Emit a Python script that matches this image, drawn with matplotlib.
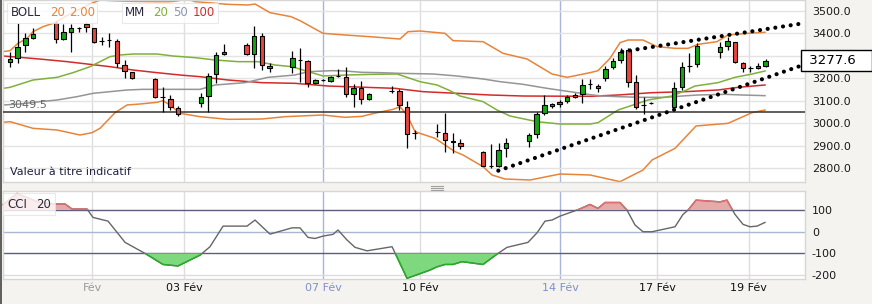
import numpy as np
import matplotlib.pyplot as plt
from matplotlib.lines import Line2D
from matplotlib.patches import Rectangle
from matplotlib.transforms import blended_transform_factory

plt.rcParams['font.family'] = ['DejaVu Sans']
plt.rcParams['axes.unicode_minus'] = False

# bougies : index de la période, ouverture, plus haut, plus bas, clôture
idx = [0, 1, 2, 3, 6, 7, 8, 9, 10, 11, 12, 13, 14, 15, 16, 19, 20, 21, 22,
       25, 26, 27, 28, 31, 32, 33, 34, 37, 38, 39, 40, 41, 42, 43, 44, 45, 46, 47,
       50, 51, 52, 53, 56, 57, 58, 59, 62, 63, 64, 65, 68, 69, 70, 71, 72, 73, 74,
       75, 76, 77, 78, 79, 80, 81, 82, 83, 84, 87, 88, 89, 90, 93, 94, 95, 96, 97, 98, 99]
opn = [3270.6, 3288.4, 3347.6, 3377.2, 3443.8, 3372.8, 3406.8, 3421.6, 3440.9, 3421.6,
       3367, 3370, 3365.4, 3258.7, 3226.2, 3196.6, 3118.5, 3107.7, 3066.2,
       3091.4, 3122.5, 3218.8, 3306, 3347.6, 3306.1, 3387.6, 3254.3, 3248.4, 3281.5,
       3276.5, 3177.3, 3192.5, 3189.1, 3210.5, 3206.9, 3128.4, 3155.1, 3106.2,
       3145, 3143.2, 3073.6, 2957, 2963, 2955.2, 2919, 2913.7, 2873.7, 2812, 2811.5, 2888.5,
       2921.1, 2950.7, 3044, 3084, 3084, 3098.8, 3125.5, 3129.9, 3173, 3165.4, 3199.5,
       3248.4, 3281, 3325.4, 3184.7, 3079, 3091, 3073.6, 3159.5, 3256, 3261.7,
       3318, 3343.1, 3359.4, 3266.2, 3244, 3243.9, 3255.8]
high = [3318, 3446.8, 3399.4, 3421.6, 3455.7, 3440.9, 3440.9, 3429, 3451.3, 3423,
        3384.6, 3399.4, 3372.8, 3281, 3229.1, 3199.5, 3159.5, 3125.5, 3076.6,
        3132.9, 3221.7, 3318, 3350.5, 3355, 3432, 3399.4, 3266.2, 3322.4, 3332.8,
        3281, 3196.6, 3198, 3209.9, 3239.5, 3251.3, 3174.3, 3187.7, 3135.8,
        3165, 3150.6, 3098.8, 2970, 2996.6, 3047, 2958, 2928.5, 2876.7, 2906.3, 2910.7, 2933,
        2958.1, 3048.4, 3125.5, 3088.5, 3103.3, 3125.5, 3132.9, 3196.6, 3196.6, 3174.3, 3255.8,
        3288.4, 3332.8, 3332.8, 3214.3, 3115.1, 3095.8, 3184.7, 3270.6, 3313.5, 3355,
        3362.4, 3384.6, 3362.4, 3270.6, 3255.8, 3266.2, 3283.9]
low = [3251.3, 3266.2, 3318, 3375, 3358, 3369.8, 3315, 3404, 3406.8, 3355,
       3347.6, 3337, 3251.3, 3199.5, 3196.6, 3110.6, 3051.4, 3058.8, 3032.2,
       3073.6, 3051.4, 3177.3, 3303.2, 3303.2, 3243.9, 3236.5, 3229.1, 3221.7, 3184.7,
       3159.5, 3174.3, 3186.2, 3184.7, 3207, 3118, 3073.6, 3084, 3103.3,
       3133, 3058.8, 2891.5, 2928.5, 2940.4, 2873.7, 2869.3, 2884.1, 2810.1, 2799.7, 2807.1, 2851.5,
       2895.9, 2933, 3036.6, 3066.2, 3073.6, 3091.4, 3110.7, 3088.5, 3150.6, 3140.3, 3189.1,
       3241, 3266.2, 3159.5, 3061.8, 3041, 3085.5, 3070.7, 3147.7, 3229.1, 3251.3,
       3288.4, 3325.4, 3266.2, 3229.1, 3229.1, 3241, 3251.3]
close = [3285.4, 3340.2, 3377.2, 3395, 3372.8, 3403.9, 3421.6, 3421, 3426, 3362.4,
         3366, 3369, 3266.2, 3232.1, 3202.5, 3118, 3117.5, 3073.6, 3039.6,
         3118.1, 3211.4, 3303.2, 3315, 3307.6, 3387.6, 3258.7, 3243.9, 3288.4, 3280,
         3180.3, 3192.1, 3192, 3204, 3210, 3128.4, 3155.1, 3106.2, 3128.4,
         3144, 3081.1, 2950.7, 2955, 2962, 2925.6, 2918, 2898.9, 2811.5, 2811, 2881.1, 2913.7,
         2947.8, 3039.6, 3081, 3076.6, 3092.9, 3115.1, 3118.1, 3169.9, 3172.8, 3155.1, 3241,
         3278, 3318, 3184.7, 3073.6, 3081, 3091.5, 3155.1, 3248.4, 3255.7, 3343.1,
         3337.2, 3365.4, 3270.6, 3246.9, 3243.9, 3254.3, 3277.6]

# Bollinger 20 / 2.00
boll_up_x = [-0.92, 0, 1.05, 2.23, 3.01, 4.32, 5.9, 7.21, 8.91, 10.48, 11.79, 13.49, 15.72,
             19.26, 20.96, 21.88, 23.19, 24.24, 28.56, 31.18, 32.1, 34.06, 36.81, 37.99,
             41.01, 43.89, 47.16, 51.09, 52.14, 53.71, 56.99, 58.04, 61.97, 64.59, 67.73,
             71.01, 72.98, 75.99, 77.03, 78.61, 79.92, 80.96, 82.93, 84.76, 87.12, 88.83,
             90.14, 92.62, 94.06, 96.69, 98.91]
boll_up = [3318, 3322.4, 3355, 3377.2, 3406.8, 3429, 3446.8, 3473.5, 3503.1, 3529.7, 3547.5,
           3544.5, 3541.6, 3540.1, 3540.1, 3543.1, 3552, 3540.1, 3528.2, 3525.3, 3529.7,
           3491.2, 3473.5, 3455.7, 3399.4, 3392, 3384.6, 3374.2, 3406.8, 3409.8, 3399.4,
           3366.8, 3362.4, 3310.6, 3285.4, 3218.8, 3204, 3224.7, 3233.6, 3288.4, 3358,
           3369.8, 3369.8, 3340.2, 3332.8, 3332.8, 3350.5, 3362.4, 3392, 3399.4, 3403.9]
boll_dn_x = [-0.92, 0, 3.01, 6.16, 9.17, 10.74, 11.79, 13.76, 15.33, 17.03, 19.26, 20.04,
             20.96, 22.27, 24.89, 28.56, 33.01, 36.03, 37.99, 41.01, 43.89, 46.12, 47.69,
             50.18, 51.09, 52.01, 53.06, 55.68, 58.3, 59.35, 61.97, 63.15, 64.85, 68.13,
             72.05, 75.99, 79.92, 82.93, 84.11, 87.12, 89.87, 94.06, 97.21, 98.91]
boll_dn = [3004.1, 3007, 2977.4, 2970, 2947.8, 2958.1, 2977.4, 3047, 3081.1, 3085.5, 3092.9,
           3100.3, 3081.1, 3044, 3029.2, 3017.4, 3018.9, 3029.2, 3032.2, 3036.6, 3026.3,
           3030.7, 3044, 3061.8, 3073.6, 3036.6, 2962.6, 2933, 2873.7, 2858.9, 2807.1,
           2770.1, 2752.3, 2747.9, 2774.5, 2770.1, 2740.5, 2792.3, 2836.7, 2888.5, 2987.8,
           2999.6, 3047, 3058.8]

# moyennes mobiles 20 / 50 / 100
mm20_x = [-0.92, 0, 3.01, 6.16, 8.25, 10.48, 11.79, 13.1, 14.41, 16.11, 19.26, 21.35, 24.24,
          26.86, 29.87, 32.49, 34.72, 36.94, 38.65, 41.01, 44.15, 47.56, 50.7, 52.4, 53.71,
          55.94, 57.64, 58.95, 61.97, 63.8, 65.5, 69.04, 72.05, 75.99, 77.03, 79.65, 80.96,
          83.59, 86.73, 88.43, 89.74, 92.76, 94.98, 97.21, 98.91]
mm20 = [3155.1, 3159.5, 3192.1, 3204, 3224.7, 3251.3, 3273.6, 3295.8, 3303.2, 3307.6,
        3307.6, 3298.7, 3291.3, 3281, 3273.6, 3273.6, 3258.7, 3251.3, 3233.6, 3209.9,
        3214.3, 3217.3, 3218.8, 3199.5, 3184.7, 3169.9, 3144.7, 3121, 3095.9, 3058.8,
        3032.2, 3007, 2996.6, 2996.6, 3002.6, 3058.8, 3073.6, 3103.3, 3121, 3144.7,
        3165.4, 3180.3, 3204, 3218.8, 3232.1]
mm50_x = [-0.92, 1.31, 3.93, 6.16, 8.78, 10.87, 13.1, 15.33, 17.42, 24.89, 26.86, 30.79,
          33.8, 37.34, 39.04, 42.18, 43.89, 46.12, 48.47, 51.09, 55.42, 58.56, 61.97, 64.2,
          67.21, 70.35, 72.45, 74.28, 75.99, 77.56, 79.65, 82.8, 85.81, 88.04, 90.14, 93.67,
          95.9, 98.91]
mm50 = [3081.1, 3085.5, 3095.9, 3103.3, 3118.1, 3132.9, 3140.3, 3147.7, 3150.6, 3150.6,
        3169.9, 3180.3, 3204, 3214.3, 3229.1, 3233.6, 3232.1, 3226.2, 3224.7, 3221.7,
        3218.8, 3209.9, 3196.6, 3184.7, 3172.9, 3155.1, 3144.7, 3135.8, 3127, 3121,
        3118.1, 3115.1, 3115.1, 3121, 3125.5, 3128.4, 3125.5, 3122.5]
mm100_x = [-0.92, 1.31, 4.32, 7.47, 10.48, 13.1, 16.11, 19.26, 22.27, 24.89, 28.56, 33.01,
           37.34, 41.66, 50.44, 54.11, 58.56, 62.88, 67.21, 75.99, 79.65, 84.11, 88.43,
           92.76, 95.37, 98.91]
mm100 = [3298.7, 3292.8, 3283.9, 3273.6, 3261.7, 3251.3, 3236.5, 3224.7, 3214.3, 3206.9,
         3192.1, 3180.3, 3177.3, 3165.4, 3155.1, 3140.3, 3132.9, 3125.5, 3121, 3119.6,
         3125.5, 3135.8, 3140.3, 3147.7, 3159.5, 3169.9]

# lignes de tendance tracées (pointillés)
trend_up_x = [80.2, 103.9]
trend_up = [3318, 3443.9]
trend_dn_x = [63.97, 103.9]
trend_dn = [2789.3, 3258.7]
level = 3049.5
last = 3277.6

# CCI 20
cci_x = [-0.92, 0.92, 3.5, 5.63, 7.21, 8.12, 10.09, 10.87, 12.84, 15.07, 17.69, 20.04, 22.01,
         24.89, 26.2, 27.91, 31.05, 32.1, 34.06, 36.94, 37.99, 39.04, 39.96, 41.01, 42.32,
         42.97, 44.15, 45.2, 46.77, 50.05, 52.01, 55.02, 55.94, 56.99, 58.04, 59.22, 61.97,
         63.93, 65.11, 67.86, 69.04, 70.09, 71.01, 72.05, 74.28, 75.99, 77.03, 77.95, 79.92,
         80.83, 81.88, 82.93, 84.11, 87.12, 88.17, 88.83, 89.87, 93.02, 93.93, 94.98, 96.03,
         96.95, 97.87, 98.91]
cci = [125, 177, 140, 128, 128, 105, 105, 66, 49, -49, -100, -151, -158, -108, -69, 26, 26,
       54, -11, 18, 18, -26, -31, -20, -12, 8, -38, -72, -88, -69, -215, -177, -162, -151,
       -151, -138, -151, -100, -72, -49, -5, 49, 54, 72, 100, 126, 108, 135, 135, 100, 31,
       0, 0, 23, 80, 100, 146, 138, 146, 80, 34, 23, 26, 43]

tick_pos = [10.74, 22.8, 41.0, 53.7, 72.05, 84.8, 96.8]
tick_lab = ['Fév', '03 Fév', '07 Fév', '10 Fév', '14 Fév', '17 Fév', '19 Fév']
tick_col = ['#9a9a9a', '#111111', '#8090c8', '#111111', '#8090c8', '#111111', '#111111']

W, H = 872, 304
bg = '#f4f3ef'
fig = plt.figure(figsize=(W / 100, H / 100), dpi=100, facecolor=bg)
ax = fig.add_axes([3 / W, 1 - 182 / H, 802 / W, 182 / H])
ax2 = fig.add_axes([3 / W, 1 - 279 / H, 802 / W, 88 / H])

xlim = (-0.92, 104.15)
for a in (ax, ax2):
    a.set_facecolor('white')
    a.set_xlim(*xlim)
    for s in a.spines.values():
        s.set_color('#d6d6d6')
        s.set_linewidth(1)
    for p, c in zip(tick_pos, tick_col):
        blue = c == '#8090c8'
        a.axvline(p, color='#a8b4dc' if blue else '#dedede', lw=1, zorder=0)

# ---- panneau principal
ax.set_ylim(2739, 3547.5)
yt = np.arange(2800, 3501, 100)
for v in yt:
    ax.axhline(v, color='#e3e3e3', lw=1, zorder=0)
ax.yaxis.tick_right()
ax.set_yticks(yt)
# le libellé 3300.0 est caché par l'étiquette du dernier cours
ax.set_yticklabels(['' if v == 3300 else '%.1f' % v for v in yt])
ax.tick_params(axis='y', length=0, pad=5, labelsize=8, labelcolor='#1a1a1a')
ax.set_xticks([])

ax.plot(boll_up_x, boll_up, color='#e8843a', lw=1.1, zorder=2)
ax.plot(boll_dn_x, boll_dn, color='#e8843a', lw=1.1, zorder=2)
ax.plot(mm100_x, mm100, color='#d42a2a', lw=1.1, zorder=2)
ax.plot(mm50_x, mm50, color='#959595', lw=1.1, zorder=2)
ax.plot(mm20_x, mm20, color='#7fb13a', lw=1.1, zorder=2)

ax.axhline(level, color='#333333', lw=1.1, zorder=3)
ax.annotate('%.1f' % level, xy=(0.006, level), xycoords=('axes fraction', 'data'),
            xytext=(0, 1.5), textcoords='offset points', va='bottom', ha='left',
            fontsize=8, color='#666666', zorder=3)

o = np.array(opn); c = np.array(close)
up = c >= o
ax.vlines(idx, low, high, color='black', lw=0.9, zorder=4)
body_h = np.maximum(np.abs(c - o), 0.8)
ax.bar(idx, body_h, bottom=np.minimum(o, c), width=0.58,
       color=np.where(up, '#13a813', '#e8453c'), edgecolor='black', lw=0.8, zorder=5)

for tx, ty in ((trend_up_x, trend_up), (trend_dn_x, trend_dn)):
    ax.plot(tx, ty, color='black', lw=3, linestyle=(0, (0.01, 1.85)),
            dash_capstyle='round', zorder=6)

tr = blended_transform_factory(ax.transAxes, ax.transData)
ax.text(1.0, last, ' %.1f   ' % last, transform=tr, ha='left', va='center', fontsize=9.5,
        color='black', zorder=7,
        bbox=dict(boxstyle='square,pad=0.3', fc='white', ec='black', lw=1))

ax.text(0.009, 0.055, 'Valeur à titre indicatif', transform=ax.transAxes, fontsize=8,
        color='#202040', ha='left', va='center')

# légendes
def box(x0, y0, x1, y1):
    fig.add_artist(Rectangle((x0 / W, 1 - y1 / H), (x1 - x0) / W, (y1 - y0) / H,
                             transform=fig.transFigure, fc='white', ec='#e4e4e4',
                             alpha=0.8, lw=0.8, zorder=10))

def label(x, y, s, col, size=8.5):
    fig.text(x / W, 1 - y / H, s, color=col, fontsize=size, ha='left', va='center',
             zorder=11)

box(7, 3, 97, 23)
label(11, 12.5, 'BOLL', '#2a2a3a')
label(50, 12.5, '20', '#e8843a')
label(69, 12.5, '2.00', '#e8843a')
box(122, 3, 218, 23)
label(125, 12.5, 'MM', '#2a2a3a')
label(153, 12.5, '20', '#7fb13a')
label(173, 12.5, '50', '#8a98b0')
label(193, 12.5, '100', '#d42a2a')

# ---- panneau CCI
ax2.set_ylim(-218, 188)
ax2.axhline(100, color='#5c5c7c', lw=1, zorder=1)
ax2.axhline(-100, color='#5c5c7c', lw=1, zorder=1)
ax2.axhline(0, color='#a9b7cf', lw=1, zorder=1)
ax2.axhline(-200, color='#dcdcdc', lw=1, zorder=1)
cx = np.array(cci_x); cy = np.array(cci)
ax2.fill_between(cx, cy, 100, where=cy >= 100, interpolate=True, color='#e6aaaa', lw=0, zorder=2)
ax2.fill_between(cx, cy, -100, where=cy <= -100, interpolate=True, color='#7ed87e', lw=0, zorder=2)
ax2.plot(cx, cy, color='#666666', lw=1, zorder=3)
l_red, = ax2.plot(cx, cy, color='#e07070', lw=1, zorder=4)
l_red.set_clip_path(Rectangle((-5, 100), 120, 300, transform=ax2.transData))
l_grn, = ax2.plot(cx, cy, color='#22b022', lw=1, zorder=4)
l_grn.set_clip_path(Rectangle((-5, -400), 120, 300, transform=ax2.transData))

ax2.yaxis.tick_right()
ax2.set_yticks([100, 0, -100, -200])
ax2.set_yticklabels(['100', '0', '-100', '-200'])
ax2.tick_params(axis='y', length=0, pad=5, labelsize=8, labelcolor='#1a1a1a')
ax2.set_xticks(tick_pos)
ax2.set_xticklabels(tick_lab)
ax2.tick_params(axis='x', length=0, pad=3, labelsize=8)
for t, col in zip(ax2.get_xticklabels(), tick_col):
    t.set_color(col)

box(3, 193, 55, 215)
label(7, 204, 'CCI', '#2a2a3a')
label(36, 204, '20', '#2a2a3a')

# poignée entre les panneaux + bord gauche
for yy in (185.5, 187.5, 189.5):
    fig.add_artist(Line2D([431 / W, 443 / W], [1 - yy / H] * 2, color='#a0a0a0', lw=0.8,
                          transform=fig.transFigure))
fig.add_artist(Line2D([0.8 / W] * 2, [0, 1], color='#444444', lw=1.2, transform=fig.transFigure))

fig.savefig('out.png', dpi=100, facecolor=bg)
